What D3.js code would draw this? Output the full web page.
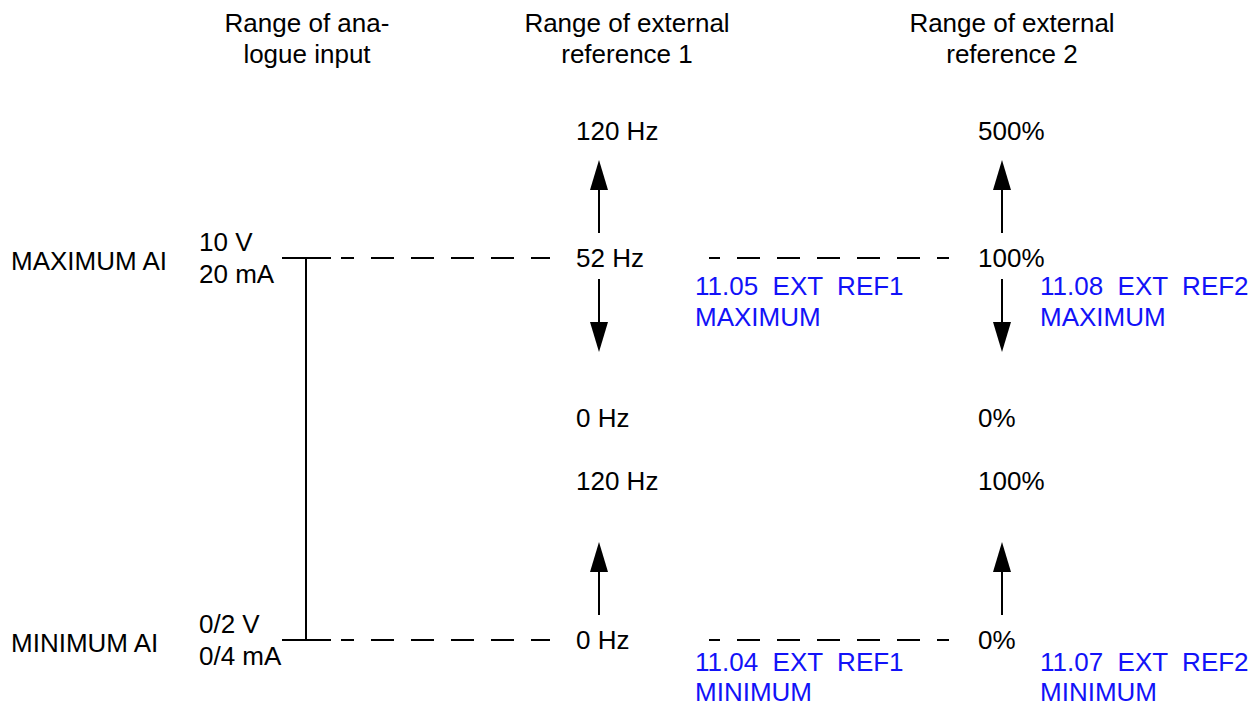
<!DOCTYPE html>
<html>
<head>
<meta charset="utf-8">
<script src="https://cdn.jsdelivr.net/npm/d3@7"></script>
<style>
  html, body { margin: 0; padding: 0; background: #fff; }
  svg text { font-family: "Liberation Sans", Arial, Helvetica, sans-serif; font-size: 26px; white-space: pre; }
</style>
</head>
<body>
<svg id="chart" width="1255" height="707"></svg>
<script>
// ---- data ----
const columnTitles = [["Range of ana-", "logue input"], ["Range of external", "reference 1"], ["Range of external", "reference 2"]];
const aiLevels = ["MAXIMUM AI", "MINIMUM AI"];
const aiValues = [["10 V", "20 mA"], ["0/2 V", "0/4 mA"]];
const levelKeys = ["top", "max", "mid", "upper", "min"];
const ref1Labels = ["120 Hz", "52 Hz", "0 Hz", "120 Hz", "0 Hz"];
const ref2Labels = ["500%", "100%", "0%", "100%", "0%"];
const paramMax = [["11.05  EXT  REF1", "MAXIMUM"], ["11.08  EXT  REF2", "MAXIMUM"]];
const paramMin = [["11.04  EXT  REF1", "MINIMUM"], ["11.07  EXT  REF2", "MINIMUM"]];
// arrows start at a level and point up or down
const arrows = [
  { from: "max", dir: "up" },
  { from: "max", dir: "down" },
  { from: "min", dir: "up" }
];

// ---- scales ----
const svg = d3.select("#chart");
const y = d3.scaleOrdinal().domain(levelKeys).range([131, 258, 418, 481, 640]); // text centre lines
const colX = d3.scaleOrdinal().domain(["titleAI", "ref1", "ref2"]).range([307, 627, 1012]);
const markX = d3.scaleOrdinal().domain(["ref1", "ref2"]).range([599, 1002]);
const labelX = d3.scaleOrdinal().domain(["ref1", "ref2"]).range([576, 978]);
const paramX = d3.scaleOrdinal().domain(["ref1", "ref2"]).range([695, 1040]);
const blue = "#1212f8";

// ---- titles ----
columnTitles.forEach((t, i) => {
  const cx = colX.range()[i];
  t.forEach((line, j) => {
    svg.append("text").attr("x", cx).attr("y", 32 + j * 31)
      .attr("text-anchor", "middle").attr("fill", "#000").text(line);
  });
});

// ---- analogue input side ----
const aiKeys = ["max", "min"];
aiKeys.forEach((k, i) => {
  svg.append("text").attr("x", 11).attr("y", y(k) + 12).text(aiLevels[i]);
  svg.append("text").attr("x", 199).attr("y", y(k) - 7).text(aiValues[i][0]);
  svg.append("text").attr("x", 199).attr("y", y(k) + 25).text(aiValues[i][1]);
  // solid tick
  svg.append("line").attr("x1", 282).attr("x2", 331).attr("y1", y(k)).attr("y2", y(k))
    .attr("stroke", "#000").attr("stroke-width", 2);
  // dashed to ref1
  svg.append("line").attr("x1", 341).attr("x2", 550).attr("y1", y(k)).attr("y2", y(k))
    .attr("stroke", "#000").attr("stroke-width", 2)
    .attr("stroke-dasharray", "23 17").attr("stroke-dashoffset", 10);
  // dashed ref1 -> ref2
  svg.append("line").attr("x1", 709).attr("x2", 949).attr("y1", y(k)).attr("y2", y(k))
    .attr("stroke", "#000").attr("stroke-width", 2)
    .attr("stroke-dasharray", "23 17").attr("stroke-dashoffset", 12);
});
svg.append("line").attr("x1", 306).attr("x2", 306).attr("y1", y("max")).attr("y2", y("min"))
  .attr("stroke", "#000").attr("stroke-width", 2);

// ---- reference columns ----
const arrowLen = 73, headLen = 30, hw = 9;
[["ref1", ref1Labels], ["ref2", ref2Labels]].forEach(([col, labels]) => {
  labels.forEach((lab, i) => {
    svg.append("text").attr("x", labelX(col)).attr("y", y(levelKeys[i]) + 9).text(lab);
  });
  const mx = markX(col);
  arrows.forEach(a => {
    const up = a.dir === "up";
    const tail = y(a.from) + (up ? -25 : 21);
    const tip = up ? tail - arrowLen : tail + arrowLen;
    const base = up ? tip + headLen : tip - headLen;
    svg.append("line").attr("x1", mx).attr("x2", mx).attr("y1", tail).attr("y2", base)
      .attr("stroke", "#000").attr("stroke-width", 2);
    svg.append("path").attr("d", `M${mx},${tip}L${mx - hw},${base}L${mx + hw},${base}Z`).attr("fill", "#000");
  });
});

// ---- parameter names ----
["ref1", "ref2"].forEach((col, i) => {
  paramMax[i].forEach((line, j) => {
    svg.append("text").attr("x", paramX(col)).attr("y", 295 + j * 31).attr("fill", blue).text(line);
  });
  paramMin[i].forEach((line, j) => {
    svg.append("text").attr("x", paramX(col)).attr("y", 671 + j * 30).attr("fill", blue).text(line);
  });
});
</script>
</body>
</html>
